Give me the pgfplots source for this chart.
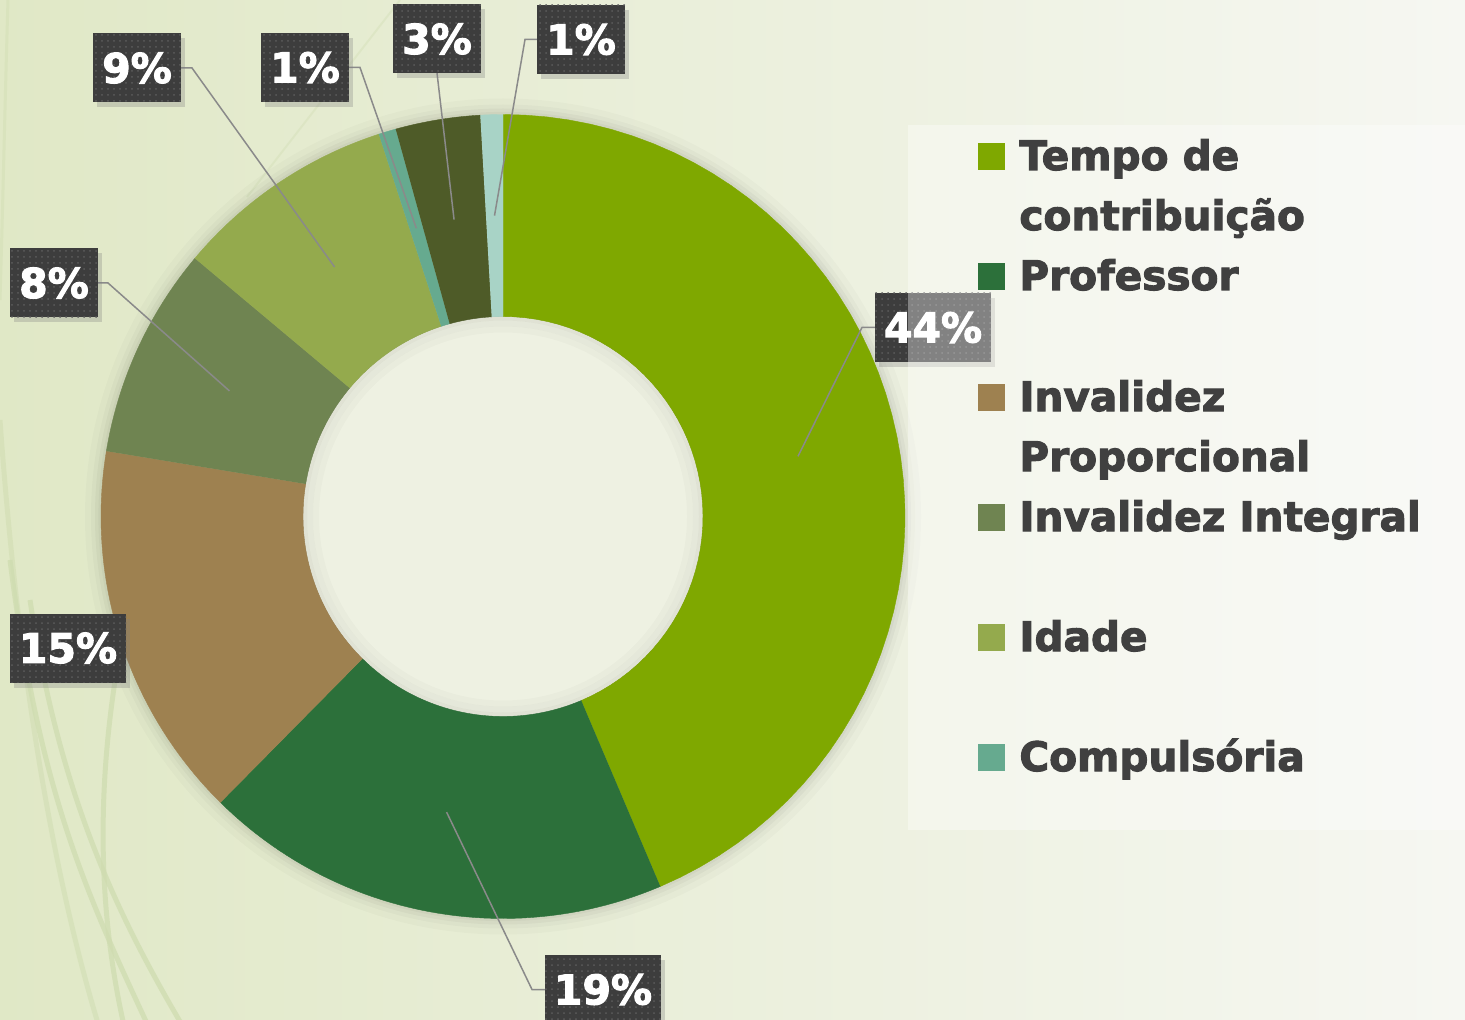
\documentclass[border=0pt]{standalone}
\usepackage{fontspec}
\setmainfont{DejaVu Sans}[BoldFeatures={FakeBold=2.6}]
\usepackage{pgfplots}
\pgfplotsset{compat=1.18}
\usetikzlibrary{patterns,shadows}

\definecolor{cTempo}{HTML}{7FA800}
\definecolor{cProf}{HTML}{2C703A}
\definecolor{cInvP}{HTML}{9E8150}
\definecolor{cInvI}{HTML}{6F8451}
\definecolor{cIdade}{HTML}{94AA4D}
\definecolor{cComp}{HTML}{66AA8F}
\definecolor{cOutroA}{HTML}{4E5B28}
\definecolor{cOutroB}{HTML}{A8D3C6}
\definecolor{bgL}{HTML}{E0E8C6}
\definecolor{bgM}{HTML}{ECF0E0}
\definecolor{bgR}{HTML}{F6F7F2}
\definecolor{holec}{HTML}{EEF1E2}
\definecolor{lblbg}{HTML}{3D3D3D}
\definecolor{lbldot}{HTML}{5C5C5C}
\definecolor{legtext}{HTML}{404040}
\definecolor{leadc}{HTML}{8A8A8A}
\definecolor{curvec}{HTML}{CFDCB0}

% one donut slice: #1 start (percent), #2 value (percent), #3 colour
\newcommand\slice[3]{%
  \addplot[fill=#3, draw=#3, line width=0.2pt, samples at={0,...,100}, variable=\t]
    ({(\t<50.5 ? 402 : 200)*cos(90-3.6*(#1+#2*(\t<50.5 ? \t/50 : (100-\t)/49)))},
     {(\t<50.5 ? 402 : 200)*sin(90-3.6*(#1+#2*(\t<50.5 ? \t/50 : (100-\t)/49)))});
}

\tikzset{
  lbl/.style={fill=lblbg, text=white, font=\fontsize{20.5pt}{24pt}\selectfont\bfseries,
    inner sep=0pt, minimum height=34.5pt,
    drop shadow={shadow xshift=2pt, shadow yshift=-2.5pt, opacity=0.3},
    postaction={pattern=dots, pattern color=lbldot}},
  leg/.style={text=legtext, font=\fontsize{20.3pt}{24pt}\selectfont\bfseries,
    inner sep=0pt, anchor=base west},
  leader/.style={draw=leadc, line width=0.75pt},
  curve/.style={draw=curvec, line width=2.5pt, opacity=0.75},
}

\begin{document}
\begin{tikzpicture}
\useasboundingbox (0,0) rectangle (732.5pt,509.5pt);
\clip (0,0) rectangle (732.5pt,509.5pt);
\shade[left color=bgL, middle color=bgM, right color=bgR] (0,0) rectangle (732.5pt,509.5pt);
\begin{scope}[shift={(0,509.5pt)}, x=0.5pt, y=-0.5pt]
  \draw[curve] (10,560) .. controls (40,800) and (90,900) .. (150,1030);
  \draw[curve] (30,600) .. controls (60,800) and (120,920) .. (185,1030);
  \draw[curve] (130,600) .. controls (95,760) and (95,900) .. (125,1030);
  \draw[curve, opacity=0.5] (0,420) .. controls (20,700) and (60,900) .. (100,1030);
  \draw[curve, opacity=0.4, line width=1.5pt] (8,0) .. controls (5,100) and (3,200) .. (0,300);
  \draw[curve, opacity=0.35, line width=1pt] (247,197) -- (400,0);
\end{scope}

\begin{axis}[at={(0,0)}, anchor=south west, x=0.5pt, y=0.5pt,
  xmin=-503, xmax=962, ymin=-502.5, ymax=516.5, hide axis, clip=false]

% soft shadow around the ring
\fill[black, opacity=0.02] (axis cs:0,0) circle[radius=209pt];
\fill[black, opacity=0.025] (axis cs:0,0) circle[radius=206pt];
\fill[black, opacity=0.03] (axis cs:0,0) circle[radius=204pt];
\fill[black, opacity=0.03] (axis cs:0,0) circle[radius=202.3pt];
\fill[holec] (axis cs:0,0) circle[radius=100pt];

% slices (percent shares, clockwise from the top)
\slice{0}{43.6}{cTempo}
\slice{43.6}{18.8}{cProf}
\slice{62.4}{15.2}{cInvP}
\slice{77.6}{8.5}{cInvI}
\slice{86.1}{8.9}{cIdade}
\slice{95.0}{0.7}{cComp}
\slice{95.7}{3.4}{cOutroA}
\slice{99.1}{0.9}{cOutroB}

% inner shadow of the hole
\draw[black, opacity=0.06, line width=2pt] (axis cs:0,0) circle[radius=99pt];
\draw[black, opacity=0.035, line width=3pt] (axis cs:0,0) circle[radius=96.5pt];
\draw[black, opacity=0.02, line width=3pt] (axis cs:0,0) circle[radius=93.5pt];

% leader lines
\draw[leader] (axis cs:-322,448.5) -- (axis cs:-311,448.5) -- (axis cs:{301*cos(90-3.6*(86.1+8.9/2))},{301*sin(90-3.6*(86.1+8.9/2))});
\draw[leader] (axis cs:-154,449) -- (axis cs:-143,449) -- (axis cs:{301*cos(90-3.6*(95.0+0.7/2))},{301*sin(90-3.6*(95.0+0.7/2))});
\draw[leader] (axis cs:-66,443.5) -- (axis cs:{301*cos(90-3.6*(95.7+3.4/2))},{301*sin(90-3.6*(95.7+3.4/2))});
\draw[leader] (axis cs:34,477) -- (axis cs:22,477) -- (axis cs:{301*cos(90-3.6*(99.1+0.9/2))},{301*sin(90-3.6*(99.1+0.9/2))});
\draw[leader] (axis cs:372,189) -- (axis cs:359,189) -- (axis cs:{301*cos(90-3.6*(43.6/2))},{301*sin(90-3.6*(43.6/2))});
\draw[leader] (axis cs:-405,233.5) -- (axis cs:-395,233.5) -- (axis cs:{301*cos(90-3.6*(77.6+8.5/2))},{301*sin(90-3.6*(77.6+8.5/2))});
\draw[leader] (axis cs:42,-473) -- (axis cs:29,-473) -- (axis cs:{301*cos(90-3.6*(43.6+18.8/2))},{301*sin(90-3.6*(43.6+18.8/2))});

% data labels
\node[lbl, minimum width=44pt] at (axis cs:-366,448.5) {9\%};
\node[lbl, minimum width=44pt] at (axis cs:-198,449) {1\%};
\node[lbl, minimum width=44pt] at (axis cs:-66,477.5) {3\%};
\node[lbl, minimum width=44pt] at (axis cs:78,477) {1\%};
\node[lbl, minimum width=58pt] at (axis cs:430,189) {44\%};
\node[lbl, minimum width=44pt] at (axis cs:-449,233.5) {8\%};
\node[lbl, minimum width=58pt] at (axis cs:-435,-131.5) {15\%};
\node[lbl, minimum width=58pt] at (axis cs:100,-473) {19\%};

% legend backdrop
\fill[white, opacity=0.36] (axis cs:405,391.5) rectangle (axis cs:962,-313.5);

% legend
\fill[cTempo] (axis cs:475,346.5) rectangle (axis cs:502,373.5);
\node[leg] at (axis cs:516,346.5) {Tempo de};
\node[leg] at (axis cs:516,286.5) {contribuição};
\fill[cProf] (axis cs:475,226.5) rectangle (axis cs:502,253.5);
\node[leg] at (axis cs:516,226.5) {Professor};
\fill[cInvP] (axis cs:475,105.5) rectangle (axis cs:502,132.5);
\node[leg] at (axis cs:516,105.5) {Invalidez};
\node[leg] at (axis cs:516,45.5) {Proporcional};
\fill[cInvI] (axis cs:475,-14.5) rectangle (axis cs:502,12.5);
\node[leg] at (axis cs:516,-14.5) {Invalidez Integral};
\fill[cIdade] (axis cs:475,-134.5) rectangle (axis cs:502,-107.5);
\node[leg] at (axis cs:516,-134.5) {Idade};
\fill[cComp] (axis cs:475,-254.5) rectangle (axis cs:502,-227.5);
\node[leg] at (axis cs:516,-254.5) {Compulsória};
\end{axis}
\end{tikzpicture}
\end{document}
